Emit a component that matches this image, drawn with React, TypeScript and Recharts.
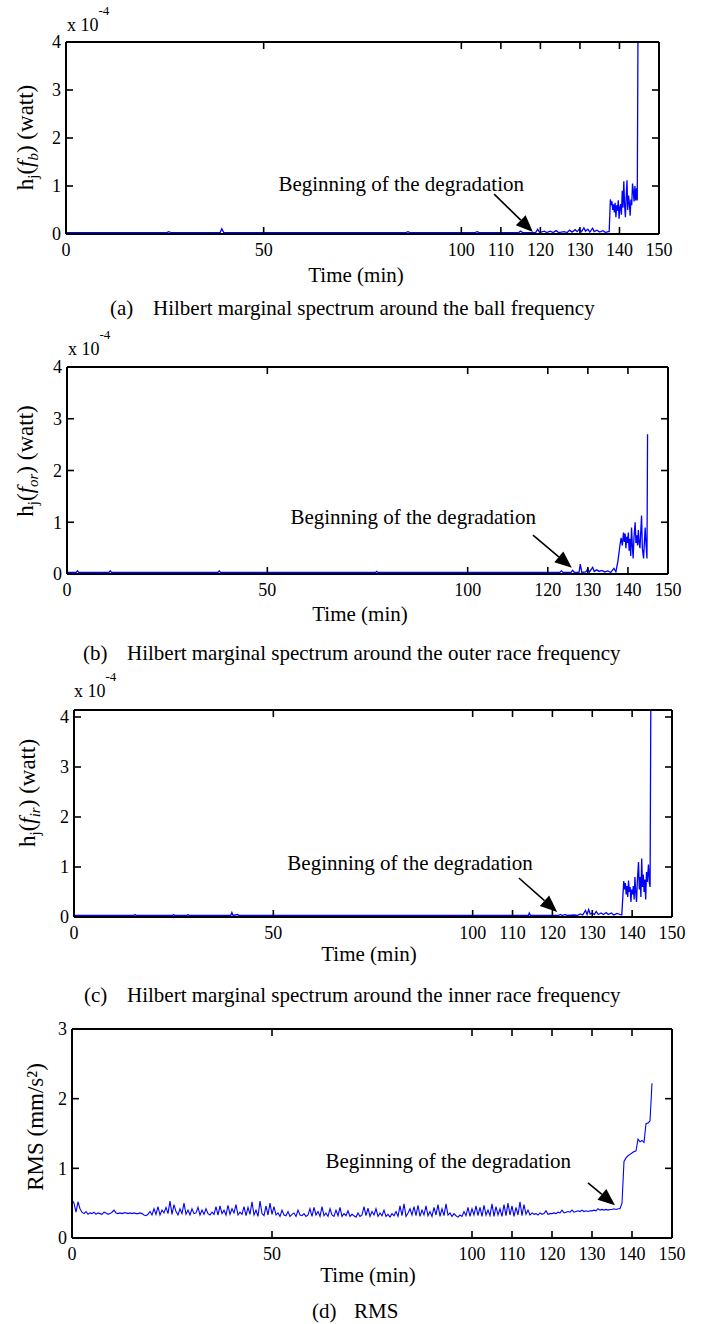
import { LineChart, Line, XAxis, YAxis, ReferenceLine, ReferenceDot } from 'recharts';

const FONT = '"Liberation Serif", "Times New Roman", serif';
const BLUE = '#0000ff';
const PAGE_W = 703;
const PAGE_H = 1324;
const PAD_TOP = 40;
const PAD_BOTTOM = 60;
const TICK_PX = 7;
const X_GAP = 9; // gap between plot bottom and x tick labels
const Y_GAP = 5; // gap between plot left and y tick labels
const X_MAX = 150;

const TIME_TICKS = [0, 50, 100, 110, 120, 130, 140, 150];
const TIME_TICKS_OUTER = [0, 50, 100, 120, 130, 140, 150];
const H_TICKS = [0, 1, 2, 3, 4];
const RMS_TICKS = [0, 1, 2, 3];

const NOTE = 'Beginning of the degradation';

// [time (min), h_j(f_b) x 1e-4 watt]
const BALL: [number, number][] = [
  [0, 0.03], [25.5, 0.03], [26, 0.05], [26.5, 0.03], [39, 0.03], [39.4, 0.11], [39.9, 0.03],
  [86, 0.03], [86.5, 0.05], [87, 0.03], [103.5, 0.03], [104, 0.05], [104.5, 0.03],
  [114.5, 0.03], [115, 0.06], [115.5, 0.03], [118.8, 0.03], [119.3, 0.1], [119.8, 0.03],
  [121, 0.06], [121.6, 0.03], [122.5, 0.06], [123.2, 0.03], [124, 0.07], [124.6, 0.03],
  [126, 0.05], [126.8, 0.03], [127.4, 0.08], [128, 0.04], [128.8, 0.09], [129.3, 0.05],
  [129.8, 0.1], [130.4, 0.05], [131, 0.13], [131.4, 0.06], [132, 0.1], [132.5, 0.04],
  [133.2, 0.12], [133.6, 0.05], [134.3, 0.08], [135, 0.04], [135.8, 0.07], [136.5, 0.03],
  [137.1, 0.05], [137.4, 0.05], [137.7, 0.72], [137.9, 0.6], [138.1, 0.68], [138.3, 0.5],
  [138.5, 0.62], [138.7, 0.45], [138.9, 0.65], [139.1, 0.35], [139.3, 0.6], [139.5, 0.48],
  [139.7, 0.7], [139.9, 0.32], [140.1, 0.55], [140.3, 0.62], [140.5, 0.4], [140.7, 0.9],
  [140.9, 0.55], [141.1, 1.1], [141.3, 0.6], [141.5, 0.35], [141.7, 0.75], [141.9, 1.12],
  [142.1, 0.5], [142.3, 0.8], [142.5, 0.65], [142.7, 0.38], [142.9, 0.72], [143.1, 0.6],
  [143.3, 1.05], [143.5, 0.9], [143.7, 0.68], [143.9, 1.0], [144.1, 0.7], [144.3, 0.95],
  [144.5, 0.7], [144.7, 4.5],
];

// [time (min), h_j(f_or) x 1e-4 watt]
const OUTER: [number, number][] = [
  [0, 0.03], [2.3, 0.03], [2.6, 0.06], [2.9, 0.03], [10.5, 0.03], [10.8, 0.06], [11.1, 0.03],
  [37.7, 0.03], [38, 0.06], [38.3, 0.03], [77, 0.03], [77.3, 0.05], [77.6, 0.03],
  [123, 0.03], [123.4, 0.06], [123.8, 0.03], [125.8, 0.03], [126.2, 0.07], [126.6, 0.03],
  [127.8, 0.03], [128.1, 0.19], [128.5, 0.03], [129.5, 0.04], [130, 0.1], [130.4, 0.04],
  [131.2, 0.13], [131.6, 0.05], [132.2, 0.08], [132.8, 0.05], [133.5, 0.07], [134.2, 0.04],
  [135, 0.06], [135.7, 0.03], [136.5, 0.11], [137, 0.04], [137.5, 0.25], [138, 0.55],
  [138.3, 0.7], [138.6, 0.55], [138.9, 0.8], [139.1, 0.62], [139.3, 0.78], [139.5, 0.5],
  [139.7, 0.72], [139.9, 0.6], [140.1, 0.8], [140.3, 0.45], [140.5, 0.68], [140.7, 0.35],
  [140.9, 0.9], [141.1, 0.55], [141.3, 0.3], [141.5, 0.7], [141.8, 1.0], [142.0, 0.6],
  [142.2, 0.75], [142.4, 0.55], [142.6, 0.85], [142.8, 0.6], [143.0, 0.5], [143.4, 1.13],
  [143.6, 0.5], [143.9, 0.3], [144.1, 0.6], [144.3, 0.9], [144.5, 0.6], [144.75, 0.3],
  [144.9, 2.7],
];

// [time (min), h_j(f_ir) x 1e-4 watt]
const INNER: [number, number][] = [
  [0, 0.03], [15, 0.03], [15.3, 0.05], [15.6, 0.03], [24.7, 0.03], [25, 0.05], [25.3, 0.03],
  [28.3, 0.03], [28.6, 0.05], [28.9, 0.03], [39.3, 0.03], [39.6, 0.09], [39.9, 0.03],
  [41, 0.05], [41.4, 0.03], [114, 0.03], [114.2, 0.08], [114.5, 0.03], [121.5, 0.03],
  [122, 0.05], [122.5, 0.03], [123.2, 0.05], [123.7, 0.03], [125.5, 0.04], [126.2, 0.03],
  [127, 0.06], [127.6, 0.04], [128.3, 0.13], [128.7, 0.05], [129.1, 0.15], [129.5, 0.06],
  [130, 0.08], [130.5, 0.05], [131, 0.11], [131.5, 0.05], [132.2, 0.08], [132.8, 0.05],
  [133.5, 0.09], [134, 0.05], [134.8, 0.08], [135.4, 0.04], [136.2, 0.07], [137, 0.05],
  [137.4, 0.04], [137.9, 0.72], [138.1, 0.55], [138.3, 0.68], [138.5, 0.45], [138.7, 0.62],
  [138.9, 0.4], [139.1, 0.73], [139.3, 0.5], [139.5, 0.6], [139.7, 0.3], [139.9, 0.55],
  [140.1, 0.45], [140.3, 0.62], [140.5, 0.35], [140.7, 0.8], [140.9, 0.5], [141.1, 0.3],
  [141.3, 0.7], [141.6, 1.1], [141.8, 0.55], [142.0, 0.8], [142.2, 0.4], [142.4, 1.17],
  [142.6, 0.6], [142.8, 0.85], [143.0, 0.5], [143.2, 0.75], [143.4, 0.35], [143.6, 0.9],
  [143.8, 0.7], [144.1, 1.05], [144.3, 0.7], [144.5, 0.6], [144.7, 4.5],
];

// RMS (mm/s^2), one reading every half minute from t = 0
const RMS_STEP = 0.5;
const RMS: number[] = [
  0.55, 0.5, 0.37, 0.52, 0.42, 0.37, 0.35, 0.38, 0.34, 0.36, 0.35, 0.37, 0.34, 0.36, 0.35, 0.34, 0.37, 0.36, 0.34, 0.35,
  0.37, 0.4, 0.36, 0.35, 0.36, 0.35, 0.36, 0.36, 0.35, 0.36, 0.35, 0.36, 0.35, 0.35, 0.36, 0.35, 0.33, 0.32, 0.34, 0.38,
  0.33, 0.42, 0.34, 0.45, 0.33, 0.4, 0.36, 0.44, 0.35, 0.53, 0.34, 0.48, 0.38, 0.33, 0.42, 0.35, 0.5, 0.34, 0.4, 0.33,
  0.42, 0.35, 0.36, 0.44, 0.33, 0.4, 0.34, 0.42, 0.35, 0.33, 0.37, 0.34, 0.45, 0.33, 0.46, 0.35, 0.4, 0.33, 0.47, 0.34,
  0.42, 0.36, 0.48, 0.33, 0.37, 0.34, 0.45, 0.32, 0.44, 0.34, 0.52, 0.33, 0.4, 0.31, 0.53, 0.35, 0.32, 0.46, 0.33, 0.5,
  0.34, 0.45, 0.33, 0.36, 0.31, 0.4, 0.33, 0.32, 0.38, 0.31, 0.34, 0.36, 0.31, 0.4, 0.33, 0.32, 0.35, 0.31, 0.33, 0.42,
  0.31, 0.44, 0.33, 0.38, 0.31, 0.45, 0.32, 0.36, 0.31, 0.42, 0.33, 0.31, 0.4, 0.32, 0.44, 0.31, 0.35, 0.32, 0.39, 0.31,
  0.34, 0.32, 0.3, 0.36, 0.31, 0.33, 0.45, 0.32, 0.43, 0.31, 0.38, 0.33, 0.42, 0.31, 0.36, 0.32, 0.4, 0.31, 0.34, 0.3,
  0.35, 0.32, 0.38, 0.31, 0.46, 0.32, 0.49, 0.31, 0.36, 0.42, 0.33, 0.45, 0.32, 0.47, 0.31, 0.4, 0.33, 0.46, 0.32, 0.38,
  0.31, 0.44, 0.33, 0.48, 0.31, 0.42, 0.32, 0.49, 0.33, 0.36, 0.31, 0.35, 0.32, 0.3, 0.33, 0.31, 0.38, 0.32, 0.44, 0.31,
  0.42, 0.33, 0.46, 0.32, 0.44, 0.31, 0.47, 0.33, 0.4, 0.32, 0.49, 0.31, 0.45, 0.33, 0.42, 0.31, 0.48, 0.32, 0.5, 0.33,
  0.46, 0.31, 0.44, 0.33, 0.52, 0.32, 0.48, 0.34, 0.4, 0.33, 0.36, 0.34, 0.35, 0.33, 0.36, 0.34, 0.35, 0.39, 0.34, 0.35,
  0.35, 0.36, 0.35, 0.37, 0.36, 0.4, 0.36, 0.37, 0.38, 0.37, 0.4, 0.37, 0.38, 0.39, 0.38, 0.4, 0.38, 0.39, 0.38, 0.39,
  0.39, 0.4, 0.39, 0.42, 0.4, 0.41, 0.4, 0.41, 0.4, 0.41, 0.41, 0.42, 0.41, 0.42, 0.42, 0.5, 1.1, 1.15, 1.18, 1.2,
  1.22, 1.24, 1.25, 1.42, 1.38, 1.4, 1.37, 1.64, 1.65, 1.68, 2.22,
];

type Row = { t: number; v: number };
type Box = { left: number; right: number; top: number; bottom: number };
type Note = { text: [number, number]; tail: [number, number]; tip: [number, number] };

const toRows = (pairs: [number, number][]): Row[] => pairs.map(([t, v]) => ({ t, v }));
const rmsRows: Row[] = RMS.map((v, i) => ({ t: i * RMS_STEP, v }));

const AXIS = { stroke: '#000', strokeWidth: 2 };
const MARK = { stroke: '#000', strokeWidth: 1.6 };

// tick renderers: each draws its inward tick mark, plus the label on bottom/left
const BottomTick = (p: any) => (
  <g>
    <line x1={p.x} y1={p.y - X_GAP} x2={p.x} y2={p.y - X_GAP - TICK_PX} {...MARK} />
    <text x={p.x} y={p.y} dy="0.71em" textAnchor="middle" fontSize={18} fontFamily={FONT} fill="#000">
      {p.payload.value}
    </text>
  </g>
);
const TopTick = (p: any) => <line x1={p.x} y1={p.y} x2={p.x} y2={p.y + TICK_PX} {...MARK} />;
const LeftTick = (p: any) => (
  <g>
    <line x1={p.x + Y_GAP} y1={p.y} x2={p.x + Y_GAP + TICK_PX} y2={p.y} {...MARK} />
    <text x={p.x} y={p.y} dy="0.355em" textAnchor="end" fontSize={18} fontFamily={FONT} fill="#000">
      {p.payload.value}
    </text>
  </g>
);
const RightTick = (p: any) => <line x1={p.x} y1={p.y} x2={p.x - TICK_PX} y2={p.y} {...MARK} />;

// arrow shaft + filled head, drawn from the reference-line segment ends
const Arrow = (p: any) => {
  const { x1, y1, x2, y2 } = p;
  if (![x1, y1, x2, y2].every((n) => typeof n === 'number')) return null;
  const dx = x2 - x1;
  const dy = y2 - y1;
  const len = Math.hypot(dx, dy) || 1;
  const ux = dx / len;
  const uy = dy / len;
  const hl = 17;
  const hw = 7;
  const bx = x2 - ux * hl;
  const by = y2 - uy * hl;
  const pts = `${x2},${y2} ${bx - uy * hw},${by + ux * hw} ${bx + uy * hw},${by - ux * hw}`;
  return (
    <g>
      <line x1={x1} y1={y1} x2={bx} y2={by} stroke="#000" strokeWidth={1.6} />
      <polygon points={pts} fill="#000" />
    </g>
  );
};

function Panel({ rows, box, yMax, yTicks, xTicks, note, lineWidth }: {
  rows: Row[]; box: Box; yMax: number; yTicks: number[]; xTicks: number[]; note: Note; lineWidth: number;
}) {
  const height = PAD_TOP + (box.bottom - box.top) + PAD_BOTTOM;
  return (
    <div style={{ position: 'absolute', left: 0, top: box.top - PAD_TOP }}>
      <LineChart width={PAGE_W} height={height} data={rows} margin={{ top: 0, right: 0, bottom: 0, left: 0 }}>
        <XAxis xAxisId="bottom" dataKey="t" type="number" domain={[0, X_MAX]} ticks={xTicks} interval={0}
          allowDataOverflow height={PAD_BOTTOM} tickSize={0} tickMargin={X_GAP} stroke="#000"
          axisLine={AXIS} tickLine={false} tick={BottomTick} />
        <XAxis xAxisId="top" orientation="top" dataKey="t" type="number" domain={[0, X_MAX]} ticks={xTicks}
          interval={0} allowDataOverflow height={PAD_TOP} tickSize={0} tickMargin={0} stroke="#000"
          axisLine={AXIS} tickLine={false} tick={TopTick} />
        <YAxis yAxisId="left" type="number" domain={[0, yMax]} ticks={yTicks} interval={0} allowDataOverflow
          width={box.left} tickSize={0} tickMargin={Y_GAP} stroke="#000"
          axisLine={AXIS} tickLine={false} tick={LeftTick} />
        <YAxis yAxisId="right" orientation="right" type="number" domain={[0, yMax]} ticks={yTicks} interval={0}
          allowDataOverflow width={PAGE_W - box.right} tickSize={0} tickMargin={0} stroke="#000"
          axisLine={AXIS} tickLine={false} tick={RightTick} />
        <Line xAxisId="bottom" yAxisId="left" type="linear" dataKey="v" stroke={BLUE} strokeWidth={lineWidth}
          dot={false} activeDot={false} isAnimationActive={false} />
        <ReferenceLine xAxisId="bottom" yAxisId="left" ifOverflow="visible"
          segment={[{ x: note.tail[0], y: note.tail[1] }, { x: note.tip[0], y: note.tip[1] }]}
          shape={Arrow} />
        <ReferenceDot xAxisId="bottom" yAxisId="left" x={note.text[0]} y={note.text[1]} r={0}
          fill="none" stroke="none" ifOverflow="visible"
          label={{ value: NOTE, position: 'left', offset: 0, fill: '#000', fontSize: 21, fontFamily: FONT }} />
      </LineChart>
    </div>
  );
}

const BALL_BOX: Box = { left: 66, right: 659, top: 42, bottom: 234 };
const OUTER_BOX: Box = { left: 67, right: 668, top: 367, bottom: 574 };
const INNER_BOX: Box = { left: 74, right: 672, top: 710, bottom: 917 };
const RMS_BOX: Box = { left: 72, right: 672, top: 1029, bottom: 1238 };

const BALL_NOTE: Note = { text: [115.85, 1.06], tail: [108.3, 0.83], tip: [118.1, 0.04] };
const OUTER_NOTE: Note = { text: [117.05, 1.11], tail: [116.3, 0.75], tip: [126.0, 0.12] };
const INNER_NOTE: Note = { text: [115.1, 1.09], tail: [111.6, 0.78], tip: [121.2, 0.1] };
const RMS_NOTE: Note = { text: [124.75, 1.11], tail: [129, 0.79], tip: [135.75, 0.47] };

function HTitle({ x, y, sub }: { x: number; y: number; sub: string }) {
  return (
    <text transform={`translate(${x},${y}) rotate(-90)`} textAnchor="middle" fontSize={23}>
      h<tspan dy={5} fontSize={15}>j</tspan>
      <tspan dy={-5}>(</tspan>
      <tspan fontStyle="italic">f</tspan>
      <tspan dy={5} fontSize={15} fontStyle="italic">{sub}</tspan>
      <tspan dy={-5}>) (watt)</tspan>
    </text>
  );
}

function Exponent({ x, y }: { x: number; y: number }) {
  return (
    <text x={x} y={y} fontSize={18}>
      x 10<tspan dy={-16} fontSize={13}>-4</tspan>
    </text>
  );
}

function Caption({ x, y, tag, gapX, text }: { x: number; y: number; tag: string; gapX: number; text: string }) {
  return (
    <g fontSize={21}>
      <text x={x} y={y}>{tag}</text>
      <text x={gapX} y={y}>{text}</text>
    </g>
  );
}

export default function App() {
  return (
    <div style={{ position: 'absolute', left: 0, top: 0, width: PAGE_W, height: PAGE_H, background: '#fff', fontFamily: FONT }}>
      <Panel rows={toRows(BALL)} box={BALL_BOX} yMax={4} yTicks={H_TICKS} xTicks={TIME_TICKS} note={BALL_NOTE} lineWidth={1.3} />
      <Panel rows={toRows(OUTER)} box={OUTER_BOX} yMax={4} yTicks={H_TICKS} xTicks={TIME_TICKS_OUTER} note={OUTER_NOTE} lineWidth={1.3} />
      <Panel rows={toRows(INNER)} box={INNER_BOX} yMax={4.14} yTicks={H_TICKS} xTicks={TIME_TICKS} note={INNER_NOTE} lineWidth={1.3} />
      <Panel rows={rmsRows} box={RMS_BOX} yMax={3} yTicks={RMS_TICKS} xTicks={TIME_TICKS} note={RMS_NOTE} lineWidth={1.1} />
      <svg width={PAGE_W} height={PAGE_H} style={{ position: 'absolute', left: 0, top: 0, pointerEvents: 'none' }}
        fontFamily={FONT} fill="#000">
        <HTitle x={33} y={137.5} sub="b" />
        <Exponent x={67} y={31} />
        <text x={356} y={282} textAnchor="middle" fontSize={21}>Time (min)</text>
        <Caption x={110} y={315} tag="(a)" gapX={153} text="Hilbert marginal spectrum around the ball frequency" />

        <HTitle x={33} y={461} sub="or" />
        <Exponent x={68} y={355} />
        <text x={360} y={621} textAnchor="middle" fontSize={21}>Time (min)</text>
        <Caption x={83} y={660} tag="(b)" gapX={127} text="Hilbert marginal spectrum around the outer race frequency" />

        <HTitle x={35} y={793} sub="ir" />
        <Exponent x={74} y={697} />
        <text x={369} y={961} textAnchor="middle" fontSize={21}>Time (min)</text>
        <Caption x={84} y={1002} tag="(c)" gapX={127} text="Hilbert marginal spectrum around the inner race frequency" />

        <text transform="translate(43,1127) rotate(-90)" textAnchor="middle" fontSize={23}>RMS (mm/s²)</text>
        <text x={368} y={1282} textAnchor="middle" fontSize={21}>Time (min)</text>
        <Caption x={312} y={1318} tag="(d)" gapX={354} text="RMS" />
      </svg>
    </div>
  );
}
